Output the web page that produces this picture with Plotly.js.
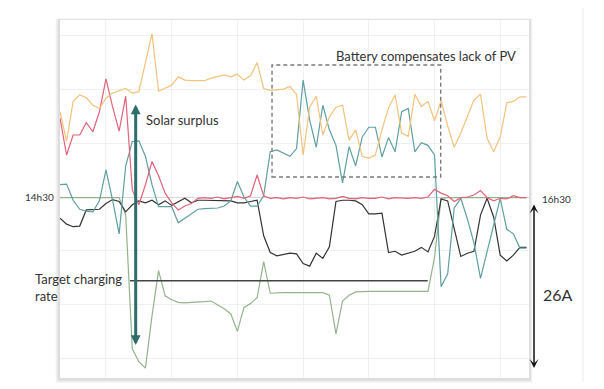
<!DOCTYPE html>
<html>
<head>
<meta charset="utf-8">
<script src="https://cdn.plot.ly/plotly-3.0.1.min.js"></script>
<style>
  html, body { margin: 0; padding: 0; background: #ffffff; }
  #chart { width: 604px; height: 389px; }
</style>
</head>
<body>
<div id="chart"></div>
<script>
// sample index along the time axis (14h30 -> 16h30)
const sampleIdx = [0,1,2,3,4,5,6,7,8,9,10,11,12,13,14,15,16,17,18,19,20,21,22,23,24,25,26,27,28,29,30,31,32,33,34,35,36,37,38,39,40,41,42,43,44,45,46,47,48,49,50,51,52,53,54,55,56,57,58,59,60,61,62,63,64,65,66,67,68,69,70,71];

// current readings (A)
const orangeSeries = [13.2,8.6,14.8,15.8,15.4,14.2,13.7,15.3,16.1,16.4,
  16.8,16.1,16.3,20.8,25.3,16.4,16.9,17.3,18.6,18.1,
  18.0,18.0,18.0,18.4,18.7,18.9,18.6,19.0,18.1,18.8,
  20.8,16.8,16.5,16.6,16.7,17.1,15.9,6.5,13.9,15.6,
  9.6,12.4,13.9,14.2,8.8,10.4,6.3,6.0,6.5,10.4,
  13.8,15.8,9.9,9.4,15.9,14.0,14.8,11.8,14.9,11.0,
  7.7,9.9,12.5,15.0,15.9,9.1,7.0,9.3,14.6,14.8,
  15.5,15.5];

const redSeries = [12.2,6.5,9.6,9.6,11.5,10.1,13.2,18.3,14.0,10.2,
  15.6,1.1,-1.2,1.9,5.5,3.3,0.6,-0.9,-2.0,-1.4,
  -1.0,-0.2,-0.1,-0.2,0.0,-0.3,-0.1,0.1,-0.2,0.2,
  3.4,0.2,-0.2,-0.1,-0.3,-0.1,-0.2,0.0,-0.3,-0.2,
  -0.1,-0.3,-0.2,0.1,-0.2,-0.3,-0.1,-0.2,-0.2,0.0,
  -0.3,-0.1,-0.2,-0.2,-0.1,-0.2,0.0,1.2,0.6,0.2,
  -0.7,-0.1,0.0,0.3,1.0,-0.1,-0.6,-0.2,-0.3,0.2,
  -0.1,-0.1];

const tealSeries = [1.9,2.0,-0.5,-1.9,-2.2,-2.3,-0.6,4.2,-0.5,-5.7,
  4.8,8.6,8.7,6.3,1.9,-1.5,-1.5,-1.5,-4.0,-3.3,
  -2.5,-1.9,-1.8,-1.8,-1.7,-1.4,-0.6,2.4,0.0,-1.4,
  -1.4,0.2,7.0,7.3,6.8,6.3,7.5,18.1,11.9,7.7,
  14.2,10.4,8.0,2.2,7.8,4.8,9.3,10.8,10.8,6.2,
  9.2,7.0,13.2,13.7,7.0,8.4,8.0,6.5,-13.9,-11.9,
  -1.7,-0.2,-3.4,-7.1,-12.6,-8.5,-4.0,-0.2,-5.0,-5.7,
  -7.9,-7.9];

const blackSeries = [-3.3,-4.2,-4.6,-4.5,-2.0,-1.9,-1.9,-1.0,-0.4,-0.7,
  -2.3,-1.2,-0.6,-0.9,-0.5,-1.2,-0.6,-1.3,-0.8,-0.2,
  -0.9,-0.5,-0.5,-0.5,-0.5,-0.5,-0.6,-0.9,-0.9,-0.7,
  -0.5,-6.0,-8.6,-9.1,-8.9,-8.7,-8.8,-10.3,-10.7,-8.7,
  -9.5,-7.7,-0.7,-0.5,-0.5,-0.6,-1.2,-2.6,-2.6,-2.5,
  -8.6,-8.4,-9.0,-8.7,-8.4,-7.8,-8.5,-6.1,-0.3,-0.6,
  -5.0,-9.2,-8.7,-8.4,-2.8,-0.2,-3.1,-9.0,-9.9,-9.0,
  -7.8,-7.8];

const greenSeries = [-0.1,-0.1,-0.1,-0.1,-0.1,-0.1,-0.1,-0.1,-0.1,-0.1,
  -2.8,-23.5,-25.5,-26.5,-18.4,-11.4,-15.3,-15.9,-16.3,-16.4,
  -16.3,-16.3,-16.2,-16.1,-16.7,-17.3,-18.1,-20.8,-17.1,-16.5,
  -15.6,-10.0,-14.9,-14.8,-14.8,-14.8,-14.8,-14.8,-14.8,-14.8,
  -14.8,-15.2,-21.2,-16.1,-15.2,-14.7,-14.6,-14.6,-14.6,-14.6,
  -14.6,-14.6,-14.6,-14.6,-14.6,-14.6,-14.6,-9.4,-0.2,-0.1,
  -0.1,-0.1,-0.1,-0.1,-0.1,-0.1,-0.1,-0.1,-0.1,-0.1,
  -0.1,-0.1];

const startLabel = '14h30';
const endLabel = '16h30';
const targetRate = -12.96;

const FONT = 'Lato, "Open Sans", sans-serif';
const TXT = '#333333';

function lineTrace(y, color) {
  return { x: sampleIdx, y: y, type: 'scatter', mode: 'lines',
           line: { color: color, width: 1.2 }, hoverinfo: 'skip', showlegend: false };
}

const data = [
  lineTrace(greenSeries, '#94b38d'),
  lineTrace(blackSeries, '#333333'),
  lineTrace(tealSeries, '#5f9fa0'),
  lineTrace(redSeries, '#e0637a'),
  lineTrace(orangeSeries, '#f3c27c')
];

const layout = {
  width: 604, height: 389,
  margin: { l: 60, r: 75, t: 20, b: 11, pad: 0 },
  paper_bgcolor: '#ffffff',
  plot_bgcolor: '#ffffff',
  showlegend: false,
  font: { family: FONT, color: TXT },
  xaxis: {
    range: [0, 71.38], showgrid: true, gridcolor: '#f0f0f0', gridwidth: 1,
    tick0: 7, dtick: 10, showticklabels: false, ticks: '', zeroline: false, showline: false
  },
  yaxis: {
    range: [-28.02, 27.40], showgrid: true, gridcolor: '#f0f0f0', gridwidth: 1,
    tick0: 0, dtick: 8.359, showticklabels: false, ticks: '',
    zeroline: true, zerolinecolor: '#d6d6d6', zerolinewidth: 1, showline: false
  },
  shapes: [
    { type: 'rect', xref: 'paper', yref: 'paper', x0: -0.009, x1: 1.007, y0: -0.013, y1: 1.004,
      fillcolor: 'rgba(0,0,0,0.06)', line: { width: 0 }, layer: 'below' },
    { type: 'rect', xref: 'paper', yref: 'paper', x0: -0.005, x1: 1.004, y0: -0.008, y1: 1.002,
      fillcolor: 'rgba(0,0,0,0.08)', line: { width: 0 }, layer: 'below' },
    { type: 'rect', xref: 'paper', yref: 'paper', x0: 0, x1: 1, y0: 0, y1: 1,
      fillcolor: '#ffffff', line: { width: 0 }, layer: 'below' },
    { type: 'line', xref: 'paper', yref: 'paper', x0: 1.1151, x1: 1.1151, y0: -0.011, y1: 1.0335,
      line: { color: '#ececec', width: 1 } },
    { type: 'rect', xref: 'x', yref: 'y', x0: 32.27, x1: 57.94, y0: 3.10, y1: 20.43,
      line: { color: '#7a7a7a', width: 1.4, dash: '4px,3px' }, fillcolor: 'rgba(0,0,0,0)' },
    { type: 'line', xref: 'x', yref: 'y', x0: 10.65, x1: 55.97, y0: targetRate, y1: targetRate,
      line: { color: '#444444', width: 1.5 } }
  ],
  annotations: [
    { xref: 'x', yref: 'y', axref: 'x', ayref: 'y', x: 11.52, y: -22.9, ax: 11.52, ay: 14.55,
      text: '', showarrow: true, arrowside: 'end+start', arrowhead: 2, startarrowhead: 2,
      arrowsize: 0.65, startarrowsize: 0.65, arrowwidth: 3, arrowcolor: '#2d6d6a', standoff: 0, startstandoff: 0 },
    { xref: 'paper', yref: 'y', x: 1.0107, y: -26.47, ax: 0, ay: -165,
      text: '', showarrow: true, arrowside: 'end+start', arrowhead: 3, startarrowhead: 3,
      arrowsize: 1.0, startarrowsize: 1.0, arrowwidth: 1.5, arrowcolor: '#111111', standoff: 0, startstandoff: 0 },
    { xref: 'paper', yref: 'paper', x: 0.1791, y: 0.7207, xanchor: 'left', yanchor: 'middle',
      text: 'Solar surplus', showarrow: false, font: { size: 13, color: TXT, family: FONT } },
    { xref: 'paper', yref: 'paper', x: 0.5842, y: 0.8994, xanchor: 'left', yanchor: 'middle',
      text: 'Battery compensates lack of PV', showarrow: false, font: { size: 13, color: TXT, family: FONT } },
    { xref: 'paper', yref: 'paper', x: -0.0576, y: 0.2514, xanchor: 'left', yanchor: 'middle', align: 'left',
      text: 'Target charging<br>rate', showarrow: false, font: { size: 13, color: TXT, family: FONT } },
    { xref: 'paper', yref: 'paper', x: 1.0256, y: 0.2346, xanchor: 'left', yanchor: 'middle',
      text: '26A', showarrow: false, font: { size: 16, color: TXT, family: FONT } },
    { xref: 'paper', yref: 'y', x: -0.008, y: 0, xanchor: 'right', yanchor: 'middle',
      text: startLabel, showarrow: false, font: { size: 10, color: TXT, family: FONT } },
    { xref: 'paper', yref: 'paper', x: 1.0245, y: 0.4992, xanchor: 'left', yanchor: 'middle',
      text: endLabel, showarrow: false, font: { size: 10, color: TXT, family: FONT } }
  ]
};

Plotly.newPlot('chart', data, layout, { displayModeBar: false, staticPlot: true });
</script>
</body>
</html>
